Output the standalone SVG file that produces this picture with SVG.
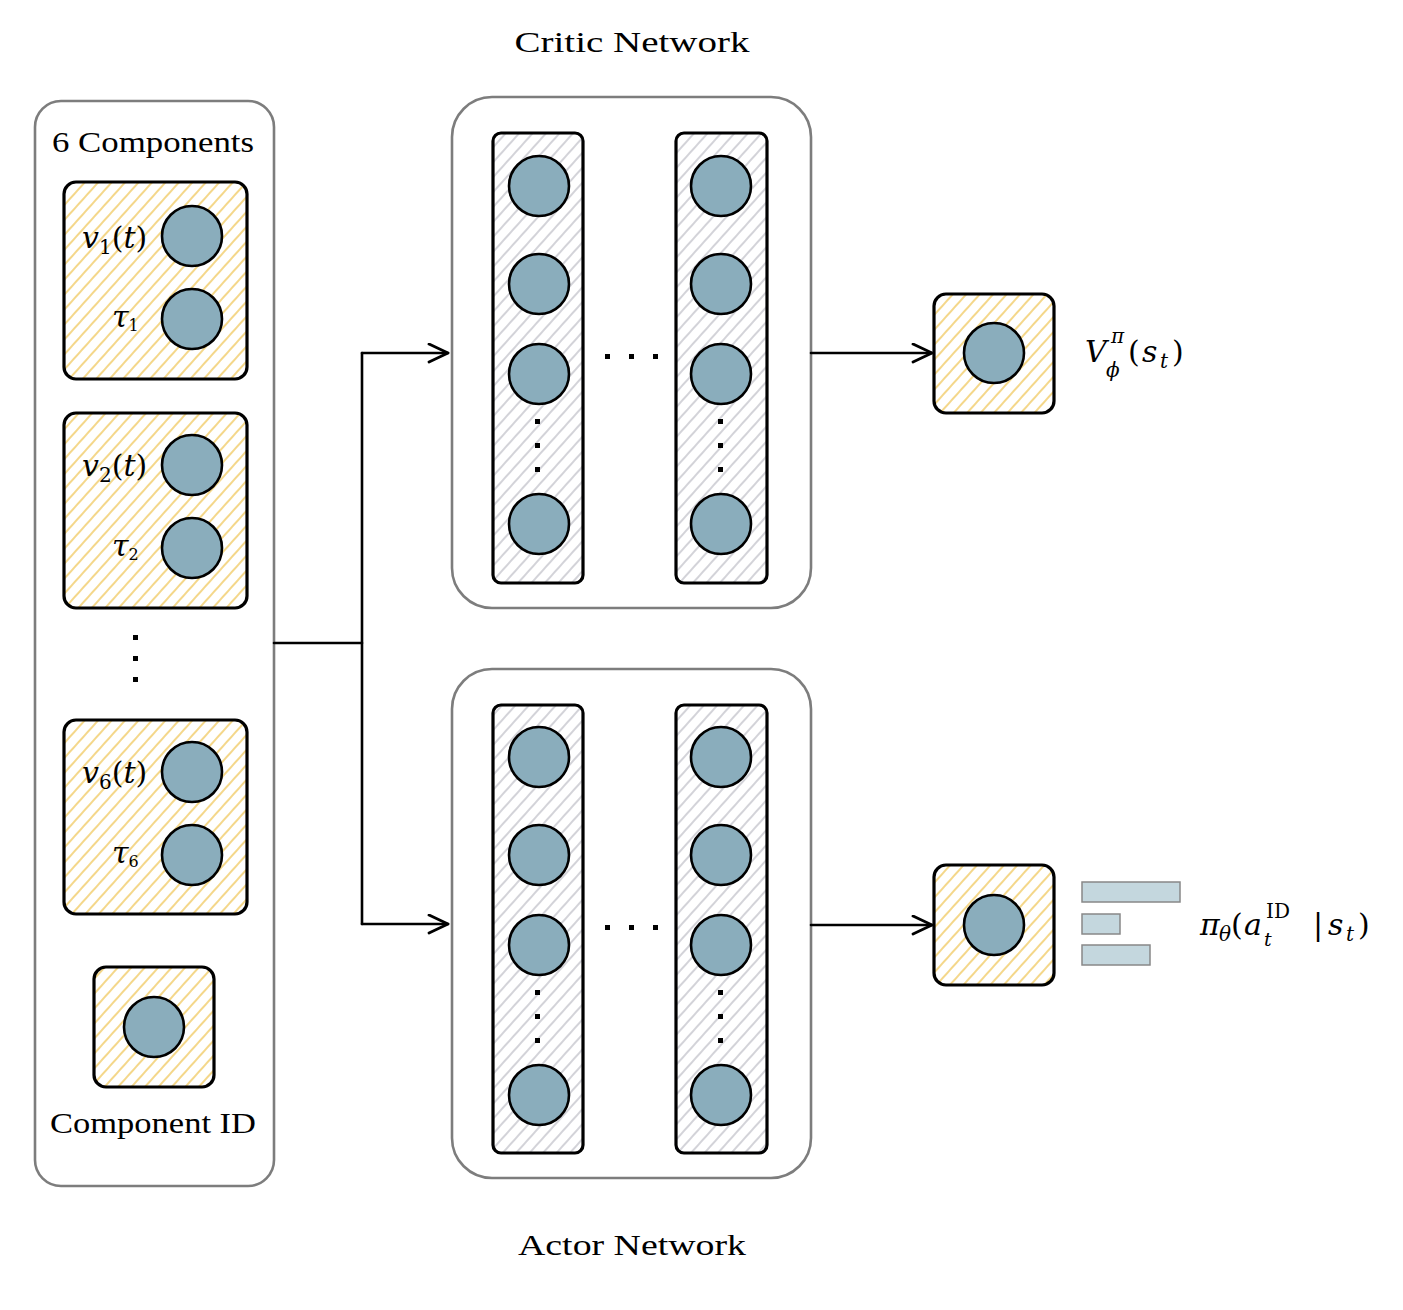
<svg xmlns="http://www.w3.org/2000/svg" width="1403" height="1310" viewBox="0 0 1403 1310">
<style>
.panel{fill:#fff;stroke:#7d7d7d;stroke-width:2.6}
.ybox{fill:url(#yh);stroke:#000;stroke-width:3.2}
.gcol{fill:url(#gh);stroke:#000;stroke-width:3.2}
.node{fill:#8aadbc;stroke:#000;stroke-width:2.6}
.lbl{font-family:"Liberation Serif","DejaVu Serif",serif;font-size:29px;fill:#000}
.m{font-family:"DejaVu Serif","Liberation Serif",serif;font-size:30px;fill:#000}
.it{font-style:italic}
.dot{fill:#000}
.conn{fill:none;stroke:#000;stroke-width:2.6;stroke-linejoin:round;stroke-linecap:round}
.bar{fill:#c4d7de;stroke:#888;stroke-width:1.5}
</style>
<defs>
<pattern id="yh" patternUnits="userSpaceOnUse" width="10" height="10" patternTransform="rotate(42)">
<line x1="5" y1="0" x2="5" y2="10" stroke="#f2cd6c" stroke-width="1.6"/>
</pattern>
<pattern id="gh" patternUnits="userSpaceOnUse" width="10" height="10" patternTransform="rotate(42)">
<line x1="5" y1="0" x2="5" y2="10" stroke="#c0c0c8" stroke-width="1.4"/>
</pattern>
<marker id="arr" markerUnits="userSpaceOnUse" markerWidth="26" markerHeight="24" refX="21" refY="10" orient="auto">
<path d="M2,1 L21,10 L2,19" fill="none" stroke="#000" stroke-width="2.8" stroke-linejoin="round" stroke-linecap="round"/>
</marker>
</defs>
<rect width="1403" height="1310" fill="#fff"/>

<g id="input-panel">
<rect class="panel" x="35" y="101" width="239" height="1085" rx="26"/>
<text class="lbl" x="153" y="152" text-anchor="middle" textLength="202" lengthAdjust="spacingAndGlyphs">6 Components</text>
</g>

<g id="component-1">
<rect class="ybox" x="64" y="182" width="183" height="197" rx="12"/>
<circle class="node" cx="192" cy="236" r="30"/>
<circle class="node" cx="192" cy="319" r="30"/>
<text class="m" x="82" y="248"><tspan class="it">v</tspan><tspan font-size="20" dy="6">1</tspan><tspan dy="-6">(</tspan><tspan class="it">t</tspan>)</text>
<text class="m" x="112" y="327" font-size="23"><tspan class="it">τ</tspan><tspan font-size="16" dy="4">1</tspan></text>
</g>

<g id="component-2">
<rect class="ybox" x="64" y="413" width="183" height="195" rx="12"/>
<circle class="node" cx="192" cy="465" r="30"/>
<circle class="node" cx="192" cy="548" r="30"/>
<text class="m" x="82" y="476"><tspan class="it">v</tspan><tspan font-size="20" dy="6">2</tspan><tspan dy="-6">(</tspan><tspan class="it">t</tspan>)</text>
<text class="m" x="112" y="556" font-size="23"><tspan class="it">τ</tspan><tspan font-size="16" dy="4">2</tspan></text>
</g>

<g id="component-dots">
<rect class="dot" x="133" y="635" width="5" height="5"/>
<rect class="dot" x="133" y="656" width="5" height="5"/>
<rect class="dot" x="133" y="677" width="5" height="5"/>
</g>

<g id="component-6">
<rect class="ybox" x="64" y="720" width="183" height="194" rx="12"/>
<circle class="node" cx="192" cy="772" r="30"/>
<circle class="node" cx="192" cy="855" r="30"/>
<text class="m" x="82" y="783"><tspan class="it">v</tspan><tspan font-size="20" dy="6">6</tspan><tspan dy="-6">(</tspan><tspan class="it">t</tspan>)</text>
<text class="m" x="112" y="863" font-size="23"><tspan class="it">τ</tspan><tspan font-size="16" dy="4">6</tspan></text>
</g>

<g id="component-id">
<rect class="ybox" x="94" y="967" width="120" height="120" rx="12"/>
<circle class="node" cx="154" cy="1027" r="30"/>
<text class="lbl" x="153" y="1133" text-anchor="middle" textLength="206" lengthAdjust="spacingAndGlyphs">Component ID</text>
</g>

<g id="critic-network">
<rect class="panel" x="452" y="97" width="359" height="511" rx="40"/>
<text class="lbl" x="632" y="52" text-anchor="middle" textLength="235" lengthAdjust="spacingAndGlyphs">Critic Network</text>
<rect class="gcol" x="493" y="133" width="90" height="450" rx="8"/>
<rect class="gcol" x="676" y="133" width="91" height="450" rx="8"/>
<circle class="node" cx="539" cy="186" r="30"/>
<circle class="node" cx="539" cy="284" r="30"/>
<circle class="node" cx="539" cy="374" r="30"/>
<circle class="node" cx="539" cy="524" r="30"/>
<circle class="node" cx="721" cy="186" r="30"/>
<circle class="node" cx="721" cy="284" r="30"/>
<circle class="node" cx="721" cy="374" r="30"/>
<circle class="node" cx="721" cy="524" r="30"/>
<rect class="dot" x="535" y="419" width="5" height="5"/>
<rect class="dot" x="535" y="443" width="5" height="5"/>
<rect class="dot" x="535" y="467" width="5" height="5"/>
<rect class="dot" x="718" y="419" width="5" height="5"/>
<rect class="dot" x="718" y="443" width="5" height="5"/>
<rect class="dot" x="718" y="467" width="5" height="5"/>
<rect class="dot" x="605" y="354" width="5" height="5"/>
<rect class="dot" x="629" y="354" width="5" height="5"/>
<rect class="dot" x="653" y="354" width="5" height="5"/>
</g>

<g id="actor-network">
<rect class="panel" x="452" y="669" width="359" height="509" rx="40"/>
<text class="lbl" x="632" y="1255" text-anchor="middle" textLength="228" lengthAdjust="spacingAndGlyphs">Actor Network</text>
<rect class="gcol" x="493" y="705" width="90" height="448" rx="8"/>
<rect class="gcol" x="676" y="705" width="91" height="448" rx="8"/>
<circle class="node" cx="539" cy="757" r="30"/>
<circle class="node" cx="539" cy="855" r="30"/>
<circle class="node" cx="539" cy="945" r="30"/>
<circle class="node" cx="539" cy="1095" r="30"/>
<circle class="node" cx="721" cy="757" r="30"/>
<circle class="node" cx="721" cy="855" r="30"/>
<circle class="node" cx="721" cy="945" r="30"/>
<circle class="node" cx="721" cy="1095" r="30"/>
<rect class="dot" x="535" y="990" width="5" height="5"/>
<rect class="dot" x="535" y="1014" width="5" height="5"/>
<rect class="dot" x="535" y="1038" width="5" height="5"/>
<rect class="dot" x="718" y="990" width="5" height="5"/>
<rect class="dot" x="718" y="1014" width="5" height="5"/>
<rect class="dot" x="718" y="1038" width="5" height="5"/>
<rect class="dot" x="605" y="925" width="5" height="5"/>
<rect class="dot" x="629" y="925" width="5" height="5"/>
<rect class="dot" x="653" y="925" width="5" height="5"/>
</g>

<g id="value-output">
<rect class="ybox" x="934" y="294" width="120" height="119" rx="12"/>
<circle class="node" cx="994" cy="353" r="30"/>
<text class="m" font-size="36"><tspan class="it" x="1085" y="362">V</tspan><tspan font-size="20" class="it" x="1111" y="343">π</tspan><tspan font-size="20" class="it" x="1106" y="377">ϕ</tspan><tspan x="1128" y="362">(</tspan><tspan class="it" x="1142" y="362">s</tspan><tspan font-size="20" class="it" x="1160" y="368">t</tspan><tspan x="1172" y="362">)</tspan></text>
</g>

<g id="policy-output">
<rect class="ybox" x="934" y="865" width="120" height="120" rx="12"/>
<circle class="node" cx="994" cy="925" r="30"/>
<rect class="bar" x="1082" y="882" width="98" height="20"/>
<rect class="bar" x="1082" y="914" width="38" height="20"/>
<rect class="bar" x="1082" y="945" width="68" height="20"/>
<text class="m" font-size="32"><tspan class="it" x="1200" y="935">π</tspan><tspan font-size="20" class="it" x="1219" y="941">θ</tspan><tspan x="1231" y="935">(</tspan><tspan class="it" x="1244" y="935">a</tspan><tspan font-size="20" x="1266" y="918">ID</tspan><tspan font-size="19" class="it" x="1264" y="946">t</tspan><tspan x="1313" y="935">|</tspan><tspan class="it" x="1328" y="935">s</tspan><tspan font-size="20" class="it" x="1346" y="941">t</tspan><tspan x="1358" y="935">)</tspan></text>
</g>

<g id="connectors">
<path class="conn" d="M274,643 L362,643"/>
<path class="conn" d="M362,353 L362,924"/>
<path class="conn" d="M362,353 L448,353" marker-end="url(#arr)"/>
<path class="conn" d="M362,924 L448,924" marker-end="url(#arr)"/>
<path class="conn" d="M811,353 L932,353" marker-end="url(#arr)"/>
<path class="conn" d="M811,925 L932,925" marker-end="url(#arr)"/>
</g>
</svg>
